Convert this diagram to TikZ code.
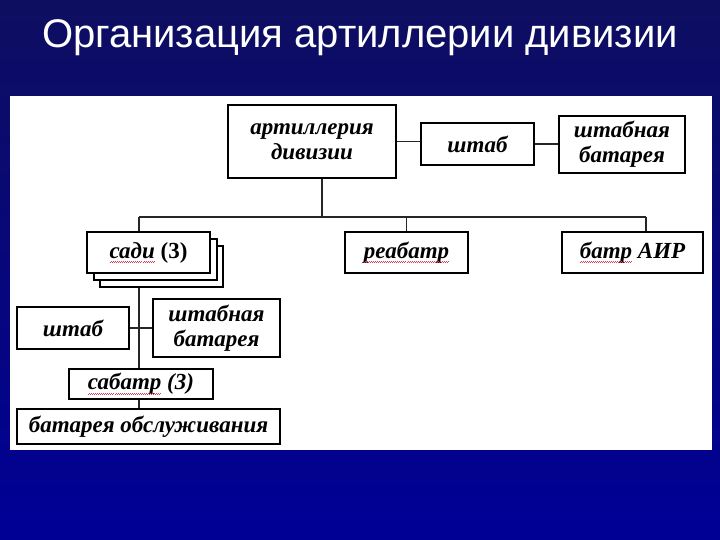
\documentclass[tikz,border=0pt]{standalone}
\usepackage{fontspec}
\setmainfont{Liberation Serif}
\newfontfamily\titlefont{Liberation Sans}
\definecolor{spell}{RGB}{220,60,80}
\definecolor{bgtop}{RGB}{14,14,96}
\definecolor{bgbot}{RGB}{0,0,150}
\newsavebox\spbox
\newcommand\spw[1]{\sbox\spbox{#1}\leavevmode\rlap{\usebox\spbox}\lower4.5pt\hbox to \wd\spbox{\color{spell}\xleaders\hbox{\rule{1pt}{0.6pt}\raise0.8pt\hbox{\rule{1pt}{0.6pt}}}\hfill}}
\tikzset{
  box/.style={draw=black, line width=1.1pt, fill=white, inner sep=0pt, align=center,
    font=\fontsize{23}{25}\selectfont\bfseries\itshape},
  link/.style={draw=black!85, line width=1.1pt}
}
\begin{document}
\begin{tikzpicture}[x=1pt,y=-1pt]
\useasboundingbox (0,0) rectangle (720,540);
\shade[top color=bgtop, bottom color=bgbot] (0,0) rectangle (720,540);
\fill[white] (10,96) rectangle (712,450);
\node[text=white, font=\titlefont\fontsize{40}{44}\selectfont] (title) at (360,38) {Организация артиллерии дивизии};

\node[box, minimum width=168pt, minimum height=73pt] (art) at (312,141.5) {артиллерия\\дивизии};
\node[box, minimum width=113pt, minimum height=42pt] (shtabA) at (477.5,144) {штаб};
\node[box, minimum width=126pt, minimum height=57pt] (shbatA) at (622,144.5) {штабная\\батарея};

\node[box, minimum width=123pt, minimum height=41pt] (sadiC) at (161.5,266.5) {};
\node[box, minimum width=123pt, minimum height=41pt] (sadiB) at (155.5,259.5) {};
\node[box, minimum width=123pt, minimum height=41pt] (sadi) at (148.5,252.5) {\spw{сади} \upshape(3)};
\node[box, minimum width=123pt, minimum height=41pt] (reab) at (406.5,252.5) {\spw{реабатр}};
\node[box, minimum width=141pt, minimum height=41pt] (air) at (632.5,252.5) {\spw{батр} АИР};

\node[box, minimum width=112pt, minimum height=42pt] (shtabB) at (73,328) {штаб};
\node[box, minimum width=127pt, minimum height=58pt] (shbatB) at (216.5,328) {штабная\\батарея};
\node[box, minimum width=144pt, minimum height=30pt] (sab) at (141,384) {\spw{сабатр} (3)};
\node[box, minimum width=263pt, minimum height=35pt] (obs) at (148.5,426.5) {батарея обслуживания};

\coordinate (bm) at (322,217);
\coordinate (bl) at (139,217);
\coordinate (br) at (646,217);

\draw[link] (art.east) -- (art.east -| shtabA.west);
\draw[link] (shtabA.east) -- (shtabA.east -| shbatA.west);
\draw[link] (art.south -| bm) -- (bm);
\draw[link] (bl) -- (br);
\draw[link] (bl) -- (bl |- sadi.north);
\draw[link] (reab.north |- bm) -- (reab.north);
\draw[link] (br) -- (br |- air.north);
\draw[link] (bl |- sadiC.south) -- (bl |- sab.north);
\draw[link] (shtabB.east) -- (shbatB.west);
\draw[link] (bl |- sab.south) -- (bl |- obs.north);
\end{tikzpicture}
\end{document}
